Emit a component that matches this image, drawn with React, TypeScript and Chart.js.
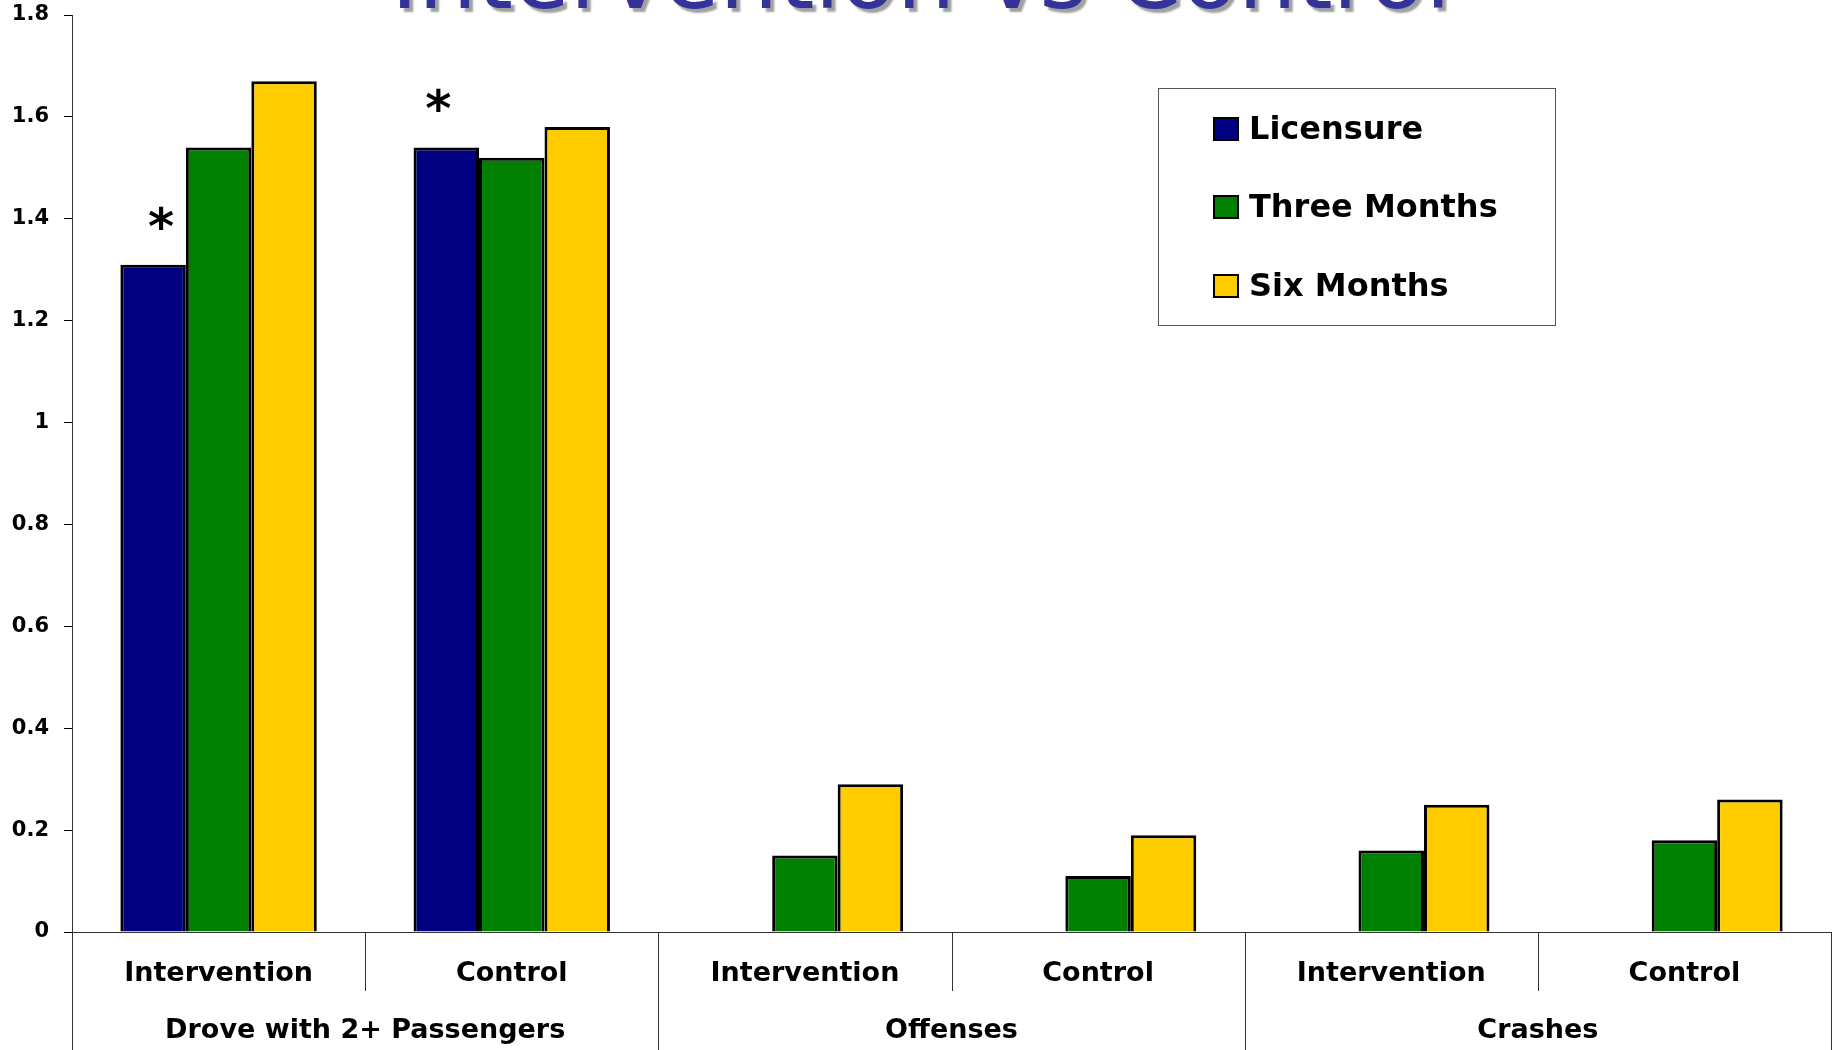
import { useEffect, useRef } from "react";
import { Chart, registerables } from "chart.js";

Chart.register(...registerables);

const W = 1833;
const H = 1050;

const titleText = "Intervention vs Control";
const categories = ["Intervention", "Control", "Intervention", "Control", "Intervention", "Control"];
const groups = ["Drove with 2+ Passengers", "Offenses", "Crashes"];
const seriesNames = ["Licensure", "Three Months", "Six Months"];
const seriesColors = ["#000080", "#008000", "#FFCC00"];
const licensure = [1.31, 1.54, null, null, null, null];
const threeMonths = [1.54, 1.52, 0.15, 0.11, 0.16, 0.18];
const sixMonths = [1.67, 1.58, 0.29, 0.19, 0.25, 0.26];
const significant = [true, true, false, false, false, false];
const yTickLabels = ["0", "0.2", "0.4", "0.6", "0.8", "1", "1.2", "1.4", "1.6", "1.8"];

const FONT = "'DejaVu Sans', 'Liberation Sans', Arial, sans-serif";
const asteriskShift = [8, -8, 0, 0, 0, 0];

const decorPlugin = {
  id: "decor",
  afterDraw(chart: any) {
    const ctx = chart.ctx as CanvasRenderingContext2D;
    const area = chart.chartArea;
    const xs = chart.scales.x;
    const n = categories.length;
    const cw = (area.right - area.left) / n;
    ctx.save();

    // Title (clipped at top)
    ctx.font = `normal 100px ${FONT}`;
    const tw = ctx.measureText(titleText).width;
    const size = (100 * 1060) / tw;
    ctx.font = `normal ${size}px ${FONT}`;
    ctx.textAlign = "center";
    ctx.textBaseline = "alphabetic";
    ctx.shadowColor = "rgba(150,150,150,0.9)";
    ctx.shadowOffsetX = 4;
    ctx.shadowOffsetY = 4;
    ctx.shadowBlur = 2;
    ctx.fillStyle = "#333399";
    ctx.fillText(titleText, 921, 8);
    ctx.shadowColor = "transparent";
    ctx.shadowOffsetX = 0;
    ctx.shadowOffsetY = 0;
    ctx.shadowBlur = 0;

    // Asterisks
    const meta = chart.getDatasetMeta(0);
    ctx.fillStyle = "#000";
    ctx.font = `bold 50px ${FONT}`;
    ctx.textAlign = "center";
    significant.forEach((s, i) => {
      if (!s) return;
      const el = meta.data[i];
      if (!el) return;
      ctx.fillText("*", el.x + asteriskShift[i], el.y - 49 + 28);
    });

    // Separators below the axis
    ctx.strokeStyle = "#333";
    ctx.lineWidth = 1;
    for (let k = 0; k <= n; k++) {
      const x = Math.round(area.left + k * cw) + 0.5;
      const isOuter = k % 2 === 0;
      ctx.beginPath();
      ctx.moveTo(x, area.bottom);
      ctx.lineTo(x, isOuter ? H : area.bottom + 59);
      ctx.stroke();
    }

    // Category labels
    ctx.fillStyle = "#000";
    ctx.font = `bold 27px ${FONT}`;
    ctx.textAlign = "center";
    ctx.textBaseline = "middle";
    categories.forEach((c, i) => {
      const x = xs.getPixelForValue(i);
      ctx.fillText(c, x, 974);
    });
    groups.forEach((g, gi) => {
      const x = area.left + (gi * 2 + 1) * cw;
      ctx.fillText(g, x, 1031);
    });

    // Legend
    const lx = 1158, ly = 88, lw = 397, lh = 237;
    ctx.strokeStyle = "#555";
    ctx.lineWidth = 1;
    ctx.strokeRect(lx + 0.5, ly + 0.5, lw, lh);
    const rows = [129, 207, 286];
    ctx.font = `bold 32px ${FONT}`;
    ctx.textAlign = "left";
    ctx.textBaseline = "alphabetic";
    seriesNames.forEach((name, i) => {
      const cy = rows[i];
      ctx.fillStyle = seriesColors[i];
      ctx.fillRect(1214, cy - 11, 24, 22);
      ctx.strokeStyle = "#000";
      ctx.lineWidth = 2;
      ctx.strokeRect(1214, cy - 11, 24, 22);
      ctx.fillStyle = "#000";
      ctx.fillText(name, 1249, cy + 10);
    });

    ctx.restore();
  },
};

export default function App() {
  const ref = useRef<HTMLCanvasElement>(null);
  useEffect(() => {
    const chart = new Chart(ref.current as HTMLCanvasElement, {
      type: "bar",
      data: {
        labels: categories,
        datasets: [
          { label: seriesNames[0], data: licensure as any, backgroundColor: seriesColors[0] },
          { label: seriesNames[1], data: threeMonths, backgroundColor: seriesColors[1] },
          { label: seriesNames[2], data: sixMonths, backgroundColor: seriesColors[2] },
        ].map((d) => ({
          ...d,
          borderColor: "#000",
          borderWidth: 3,
          categoryPercentage: 0.67,
          barPercentage: 1.0,
        })),
      },
      options: {
        responsive: false,
        animation: false,
        devicePixelRatio: 1,
        layout: { padding: { top: 15, right: 2, left: 0, bottom: 0 } },
        plugins: {
          legend: { display: false },
          tooltip: { enabled: false },
          title: { display: false },
        },
        scales: {
          x: {
            afterFit: (s: any) => {
              s.height = 118;
              s.paddingLeft = 0;
              s.paddingRight = 0;
            },
            ticks: { display: false },
            grid: { display: false },
            border: { display: true, color: "#333", width: 1 },
          },
          y: {
            min: 0,
            max: 1.8,
            afterFit: (s: any) => {
              s.width = 72;
              s.paddingTop = 0;
              s.paddingBottom = 0;
            },
            ticks: {
              stepSize: 0.2,
              color: "#000",
              padding: 15,
              font: { family: FONT, size: 21, weight: "bold" },
              callback: (_v: any, i: number) => yTickLabels[i],
            },
            grid: {
              drawOnChartArea: false,
              drawTicks: true,
              tickLength: 8,
              color: "#000",
            },
            border: { display: true, color: "#333", width: 1 },
          },
        },
      } as any,
      plugins: [decorPlugin],
    });
    return () => chart.destroy();
  }, []);
  return (
    <div style={{ position: "fixed", left: 0, top: 0, width: W, height: H, background: "#fff" }}>
      <canvas ref={ref} width={W} height={H} style={{ display: "block", width: W, height: H }} />
    </div>
  );
}
